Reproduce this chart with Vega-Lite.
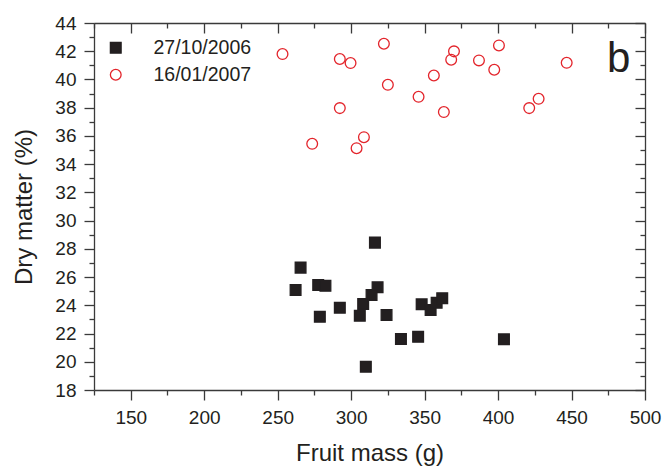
{
  "$schema": "https://vega.github.io/schema/vega-lite/v6.json",
  "width": 551,
  "height": 367,
  "autosize": {"type": "none"},
  "padding": {"left": 94, "top": 23, "right": 17, "bottom": 80},
  "background": "white",
  "config": {
    "font": "Liberation Sans",
    "view": {"stroke": null},
    "axis": {
      "domainColor": "#3a3a3a",
      "domainWidth": 1.3,
      "tickColor": "#3a3a3a",
      "tickWidth": 1.3,
      "labelColor": "#231f20",
      "labelFontSize": 19,
      "titleColor": "#231f20",
      "titleFontSize": 24,
      "titleFontWeight": "normal",
      "grid": false
    }
  },
  "datasets": {
    "pts": [
      {"date": "27/10/2006", "mass": 262.2, "dm": 25.09},
      {"date": "27/10/2006", "mass": 265.6, "dm": 26.67},
      {"date": "27/10/2006", "mass": 277.6, "dm": 25.44},
      {"date": "27/10/2006", "mass": 282.5, "dm": 25.38},
      {"date": "27/10/2006", "mass": 278.7, "dm": 23.19},
      {"date": "27/10/2006", "mass": 316.2, "dm": 28.44},
      {"date": "27/10/2006", "mass": 318.0, "dm": 25.28},
      {"date": "27/10/2006", "mass": 313.9, "dm": 24.73},
      {"date": "27/10/2006", "mass": 308.2, "dm": 24.09},
      {"date": "27/10/2006", "mass": 292.3, "dm": 23.83},
      {"date": "27/10/2006", "mass": 305.9, "dm": 23.26},
      {"date": "27/10/2006", "mass": 324.1, "dm": 23.31},
      {"date": "27/10/2006", "mass": 310.0, "dm": 19.65},
      {"date": "27/10/2006", "mass": 333.9, "dm": 21.61},
      {"date": "27/10/2006", "mass": 345.6, "dm": 21.77},
      {"date": "27/10/2006", "mass": 348.0, "dm": 24.07},
      {"date": "27/10/2006", "mass": 354.1, "dm": 23.67},
      {"date": "27/10/2006", "mass": 358.2, "dm": 24.18},
      {"date": "27/10/2006", "mass": 362.0, "dm": 24.5},
      {"date": "27/10/2006", "mass": 404.0, "dm": 21.59},
      {"date": "16/01/2007", "mass": 253.3, "dm": 41.8},
      {"date": "16/01/2007", "mass": 273.5, "dm": 35.44},
      {"date": "16/01/2007", "mass": 292.3, "dm": 41.45},
      {"date": "16/01/2007", "mass": 299.6, "dm": 41.16},
      {"date": "16/01/2007", "mass": 322.3, "dm": 42.53},
      {"date": "16/01/2007", "mass": 325.0, "dm": 39.62},
      {"date": "16/01/2007", "mass": 292.3, "dm": 37.97},
      {"date": "16/01/2007", "mass": 303.7, "dm": 35.13},
      {"date": "16/01/2007", "mass": 308.7, "dm": 35.91},
      {"date": "16/01/2007", "mass": 345.9, "dm": 38.77},
      {"date": "16/01/2007", "mass": 356.3, "dm": 40.28},
      {"date": "16/01/2007", "mass": 363.1, "dm": 37.69},
      {"date": "16/01/2007", "mass": 368.1, "dm": 41.4},
      {"date": "16/01/2007", "mass": 370.0, "dm": 41.99},
      {"date": "16/01/2007", "mass": 387.0, "dm": 41.35},
      {"date": "16/01/2007", "mass": 397.4, "dm": 40.69},
      {"date": "16/01/2007", "mass": 400.6, "dm": 42.41},
      {"date": "16/01/2007", "mass": 421.2, "dm": 37.97},
      {"date": "16/01/2007", "mass": 427.6, "dm": 38.63},
      {"date": "16/01/2007", "mass": 446.7, "dm": 41.18}
    ],
    "panel": [{"label": "b"}]
  },
  "layer": [
    {
      "data": {"name": "pts"},
      "mark": {"type": "point", "size": 115, "strokeWidth": 1.3, "opacity": 1},
      "encoding": {
        "x": {
          "field": "mass", "type": "quantitative",
          "scale": {"domain": [125, 500], "nice": false, "zero": false},
          "axis": {
            "orient": "bottom",
            "title": "Fruit mass (g)",
            "values": [125, 150, 175, 200, 225, 250, 275, 300, 325, 350, 375, 400, 425, 450, 475, 500],
            "labelExpr": "datum.value % 50 === 0 ? datum.label : ''",
            "tickSize": {"condition": {"test": "datum.value % 50 === 0", "value": 10}, "value": 5},
            "labelPadding": 8,
            "labelFlush": false,
            "labelOverlap": false,
            "titlePadding": 14
          }
        },
        "y": {
          "field": "dm", "type": "quantitative",
          "scale": {"domain": [18, 44], "nice": false, "zero": false},
          "axis": {
            "orient": "left",
            "title": "Dry matter (%)",
            "values": [18, 19, 20, 21, 22, 23, 24, 25, 26, 27, 28, 29, 30, 31, 32, 33, 34, 35, 36, 37, 38, 39, 40, 41, 42, 43, 44],
            "labelExpr": "datum.value % 2 === 0 ? datum.label : ''",
            "tickSize": {"condition": {"test": "datum.value % 2 === 0", "value": 10}, "value": 5},
            "labelPadding": 8,
            "labelFlush": false,
            "labelOverlap": false,
            "titlePadding": 18
          }
        },
        "shape": {
          "field": "date", "type": "nominal",
          "scale": {"domain": ["27/10/2006", "16/01/2007"], "range": ["square", "circle"]},
          "legend": {
            "title": null,
            "orient": "none",
            "legendX": 12,
            "legendY": 15,
            "padding": 0,
            "labelFontSize": 19.5,
            "labelColor": "#231f20",
            "labelOffset": 28,
            "symbolSize": 115,
            "symbolStrokeWidth": 1.3,
            "rowPadding": 6
          }
        },
        "fill": {
          "field": "date", "type": "nominal",
          "scale": {"domain": ["27/10/2006", "16/01/2007"], "range": ["#231f20", "transparent"]},
          "legend": {
            "title": null,
            "orient": "none",
            "legendX": 12,
            "legendY": 15,
            "padding": 0,
            "labelFontSize": 19.5,
            "labelColor": "#231f20",
            "labelOffset": 28,
            "symbolSize": 115,
            "symbolStrokeWidth": 1.3,
            "rowPadding": 6
          }
        },
        "stroke": {
          "field": "date", "type": "nominal",
          "scale": {"domain": ["27/10/2006", "16/01/2007"], "range": ["#231f20", "#e3242b"]},
          "legend": {
            "title": null,
            "orient": "none",
            "legendX": 12,
            "legendY": 15,
            "padding": 0,
            "labelFontSize": 19.5,
            "labelColor": "#231f20",
            "labelOffset": 28,
            "symbolSize": 115,
            "symbolStrokeWidth": 1.3,
            "rowPadding": 6
          }
        }
      }
    },
    {
      "data": {"name": "panel"},
      "mark": {"type": "text", "fontSize": 42, "align": "center", "baseline": "alphabetic", "color": "#231f20"},
      "encoding": {
        "text": {"field": "label"},
        "x": {
          "datum": 482,
          "type": "quantitative",
          "scale": {"domain": [125, 500], "nice": false, "zero": false},
          "axis": {
            "orient": "top",
            "title": null,
            "values": [125, 150, 175, 200, 225, 250, 275, 300, 325, 350, 375, 400, 425, 450, 475, 500],
            "labels": false,
            "tickSize": {"condition": {"test": "datum.value % 50 === 0", "value": -10}, "value": -5}
          }
        },
        "y": {
          "datum": 40.5,
          "type": "quantitative",
          "scale": {"domain": [18, 44], "nice": false, "zero": false},
          "axis": {
            "orient": "right",
            "title": null,
            "values": [18, 19, 20, 21, 22, 23, 24, 25, 26, 27, 28, 29, 30, 31, 32, 33, 34, 35, 36, 37, 38, 39, 40, 41, 42, 43, 44],
            "labels": false,
            "tickSize": {"condition": {"test": "datum.value % 2 === 0", "value": -10}, "value": -5}
          }
        }
      }
    }
  ],
  "resolve": {"axis": {"x": "independent", "y": "independent"}}
}
